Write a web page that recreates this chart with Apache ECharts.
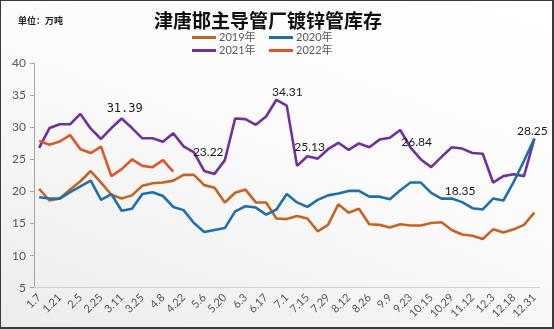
<!DOCTYPE html>
<html>
<head>
<meta charset="utf-8">
<script src="https://cdn.jsdelivr.net/npm/echarts@6/dist/echarts.min.js"></script>
<style>
html,body{margin:0;padding:0;}
#wrap{width:554px;height:329px;box-sizing:border-box;border:1px solid #3a3a3a;border-right-width:2px;border-bottom-width:2px;
background:linear-gradient(200deg,#ffffff 0%,#fbfbfb 45%,#ececec 100%);position:relative;overflow:hidden;}
#main{position:absolute;left:-1px;top:-1px;width:554px;height:329px;}
</style>
</head>
<body>
<div id="wrap"><div id="main"></div></div>
<script>
const categories = ['1.7','1.14','1.21','1.28','2.5','2.18','2.25','3.4','3.11','3.18','3.25','4.1','4.8','4.15','4.22','4.29','5.6','5.13','5.20','5.27','6.3','6.10','6.17','6.24','7.1','7.8','7.15','7.22','7.29','8.5','8.12','8.19','8.26','9.2','9.9','9.16','9.23','9.30','10.15','10.22','10.29','11.5','11.12','11.26','12.3','12.10','12.18','12.24','12.31'];
const yTicks = [5, 10, 15, 20, 25, 30, 35, 40];
const s2019 = [20.4,18.6,18.9,20.3,21.6,23.2,21.4,19.5,18.9,19.4,20.9,21.3,21.4,21.7,22.6,22.6,21.0,20.6,18.3,19.8,20.3,18.3,18.3,15.8,15.7,16.2,15.8,13.8,14.8,18.0,16.7,17.3,14.9,14.8,14.4,14.9,14.7,14.7,15.1,15.2,14.0,13.3,13.1,12.6,14.1,13.6,14.1,14.8,16.7];
const s2020 = [19.1,18.9,18.9,19.9,20.8,21.7,18.7,19.6,17.0,17.3,19.6,19.9,19.3,17.6,17.1,15.1,13.7,14.0,14.3,16.9,17.7,17.5,16.4,17.2,19.6,18.3,17.6,18.7,19.4,19.7,20.1,20.1,19.2,19.2,18.8,20.2,21.4,21.4,19.8,18.9,18.9,18.35,17.4,17.2,18.9,18.6,21.5,24.8,28.25];
const s2021 = [26.8,29.9,30.5,30.5,32.1,29.8,28.2,29.9,31.39,29.9,28.3,28.3,27.75,29.1,27.05,26.1,23.22,22.75,24.9,31.4,31.3,30.4,31.7,34.31,33.4,24.0,25.5,25.13,26.6,27.6,26.5,27.5,26.9,28.1,28.4,29.6,26.84,25.0,23.8,25.4,26.9,26.7,26.0,25.9,21.4,22.4,22.7,22.4,28.25];
const s2022 = [27.9,27.3,27.8,28.8,26.6,26.0,27.0,22.4,23.5,25.0,24.0,23.8,24.9,23.1];
const seriesNames = ['2019年','2020年','2021年','2022年'];

// which points carry a value label: [series, index, offsetX, offsetY]
const labelled = [
  ['2021年', 8, 3, -10, 'mono'],
  ['2021年', 16, 4, -19],
  ['2021年', 23, 11, -8],
  ['2021年', 27, -8, -12],
  ['2021年', 36, 6, -6],
  ['2020年', 41, -2, -11],
  ['2021年', 48, -2, -8]
];

const colors = {'2019年':'#C8631F','2020年':'#1F6FAE','2021年':'#7030A0','2022年':'#DF552A'};
const values = {'2019年':s2019,'2020年':s2020,'2021年':s2021,'2022年':s2022};

function buildData(name){
  return values[name].map(function(v, i){
    const l = labelled.find(function(e){return e[0]===name && e[1]===i;});
    if(!l) return v;
    return {value: v, label:{show:true, position:'inside', offset:[l[2], l[3]],
      color:'#1a1a1a', fontSize: 12,
      fontFamily: l[4]==='mono' ? '"DejaVu Sans Mono", monospace' : 'Lato, "Liberation Sans", sans-serif',
      formatter: function(p){return String(p.value);} }};
  });
}

const chart = echarts.init(document.getElementById('main'), null, {renderer:'canvas'});
const legendPos = [[192,32],[269,32],[192,45],[269,45]];
chart.setOption({
  backgroundColor: 'transparent',
  animation: false,
  title: [
    {text:'津唐邯主导管厂镀锌管库存', left: 263, top: 6, textAlign:'center',
     textStyle:{fontFamily:'"Noto Sans CJK SC", sans-serif', fontWeight:'bold', fontSize:19, color:'#111'}},
    {text:'单位：万吨', left: 13, top: 11,
     textStyle:{fontFamily:'"Noto Sans CJK SC", sans-serif', fontWeight:'bold', fontSize:9, color:'#222'}}
  ],
  legend: seriesNames.map(function(n, k){
    return {data:[n], left: legendPos[k][0], top: legendPos[k][1], icon:'rect', itemWidth:24, itemHeight:3,
      itemGap: 0, padding: 0, textStyle:{color:'#595959', fontSize:11, fontFamily:'Lato, "Noto Sans CJK SC", sans-serif', padding:[0,0,0,-2]}};
  }),
  grid: {left: 34, right: 14.5, top: 63.3, bottom: 41.3, containLabel: false},
  xAxis: {
    type: 'category', data: categories, boundaryGap: true,
    axisLine: {show:true, lineStyle:{color:'#d0d0d0', width:1}},
    axisTick: {show:false},
    axisLabel: {interval: 1, rotate: 45, margin: 8, color:'#595959', fontSize: 11, fontFamily:'Lato, "Liberation Sans", sans-serif'},
    splitLine: {show:false}
  },
  yAxis: {
    type: 'value', min: yTicks[0], max: yTicks[yTicks.length-1], interval: yTicks[1]-yTicks[0],
    axisLine: {show:true, lineStyle:{color:'#a6a6a6', width:1}},
    axisTick: {show:true, length:4, inside:false, lineStyle:{color:'#a6a6a6'}},
    axisLabel: {margin: 8, color:'#595959', fontSize: 12, fontFamily:'Lato, "Liberation Sans", sans-serif'},
    splitLine: {show:false}
  },
  series: seriesNames.map(function(n){
    return {name:n, type:'line', data: buildData(n), symbol:'circle', symbolSize:0, showSymbol:true, showAllSymbol:true,
      color: colors[n], lineStyle:{width:2.6, color: colors[n]}, itemStyle:{color: colors[n]},
      label:{show:false}, emphasis:{disabled:true}, z: n==='2020年'?3:2};
  })
});
</script>
</body>
</html>
